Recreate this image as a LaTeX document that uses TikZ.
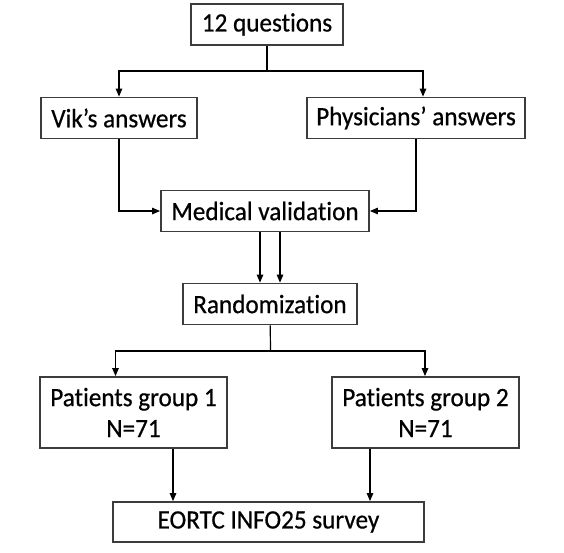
\documentclass[tikz,border=0pt]{standalone}
\usepackage{fontspec}
\setmainfont{Carlito}[FakeStretch=0.95, FakeBold=0.6, Ligatures=NoCommon]
\usetikzlibrary{arrows.meta}
\definecolor{boxgray}{RGB}{60,60,60}
\tikzset{
  stage/.style={draw=boxgray, line width=1.8pt, inner sep=0pt, align=center,
    font=\fontsize{26.5}{31}\selectfont},
  flow/.style={-{Triangle[length=8pt,width=6.5pt]}, line width=1.2pt},
}
\begin{document}
\begin{tikzpicture}[x=1pt,y=-1pt]
  \useasboundingbox (0,0) rectangle (564,552);
  \draw
    (267,24.5) node[stage, minimum width=152pt, minimum height=41pt] (q){12 questions}
    (119,118) node[stage, minimum width=156pt, minimum height=41pt] (vik){Vik’s answers}
    (416,118) node[stage, minimum width=218pt, minimum height=41pt] (phys){Physicians’ answers}
    (265,211) node[stage, minimum width=208pt, minimum height=41pt] (medval){Medical validation}
    (270,304) node[stage, minimum width=174pt, minimum height=41pt] (rand){Randomization}
    (133.5,412.5) node[stage, minimum width=187pt, minimum height=71pt] (grp1){Patients group 1\\N=71}
    (425.5,412.5) node[stage, minimum width=187pt, minimum height=71pt] (grp2){Patients group 2\\N=71}
    (268.5,522) node[stage, minimum width=311pt, minimum height=40pt] (survey){EORTC INFO25 survey};
  \coordinate (qsplit) at (267,71);
  \coordinate (rsplit) at (270.5,351);
  \begin{scope}[flow]
    \draw[-] (q) -- (qsplit);
    \draw (qsplit) -| (vik);
    \draw (qsplit) -| ([xshift=7pt]phys.north);
    \draw (vik) |- (medval);
    \draw (phys) |- (medval);
    \draw ([xshift=-5pt]medval.south) -- ([xshift=-5pt]medval.south |- rand.north);
    \draw ([xshift=15pt]medval.south) -- ([xshift=15pt]medval.south |- rand.north);
    \draw[-] (rand) -- (rsplit);
    \draw (rsplit) -| ([xshift=-18pt]grp1.north);
    \draw (rsplit) -| ([xshift=-0.5pt]grp2.north);
    \draw ([xshift=39.5pt]grp1.south) -- ([xshift=39.5pt]grp1.south |- survey.north);
    \draw ([xshift=-55.5pt]grp2.south) -- ([xshift=-55.5pt]grp2.south |- survey.north);
  \end{scope}
\end{tikzpicture}
\end{document}
